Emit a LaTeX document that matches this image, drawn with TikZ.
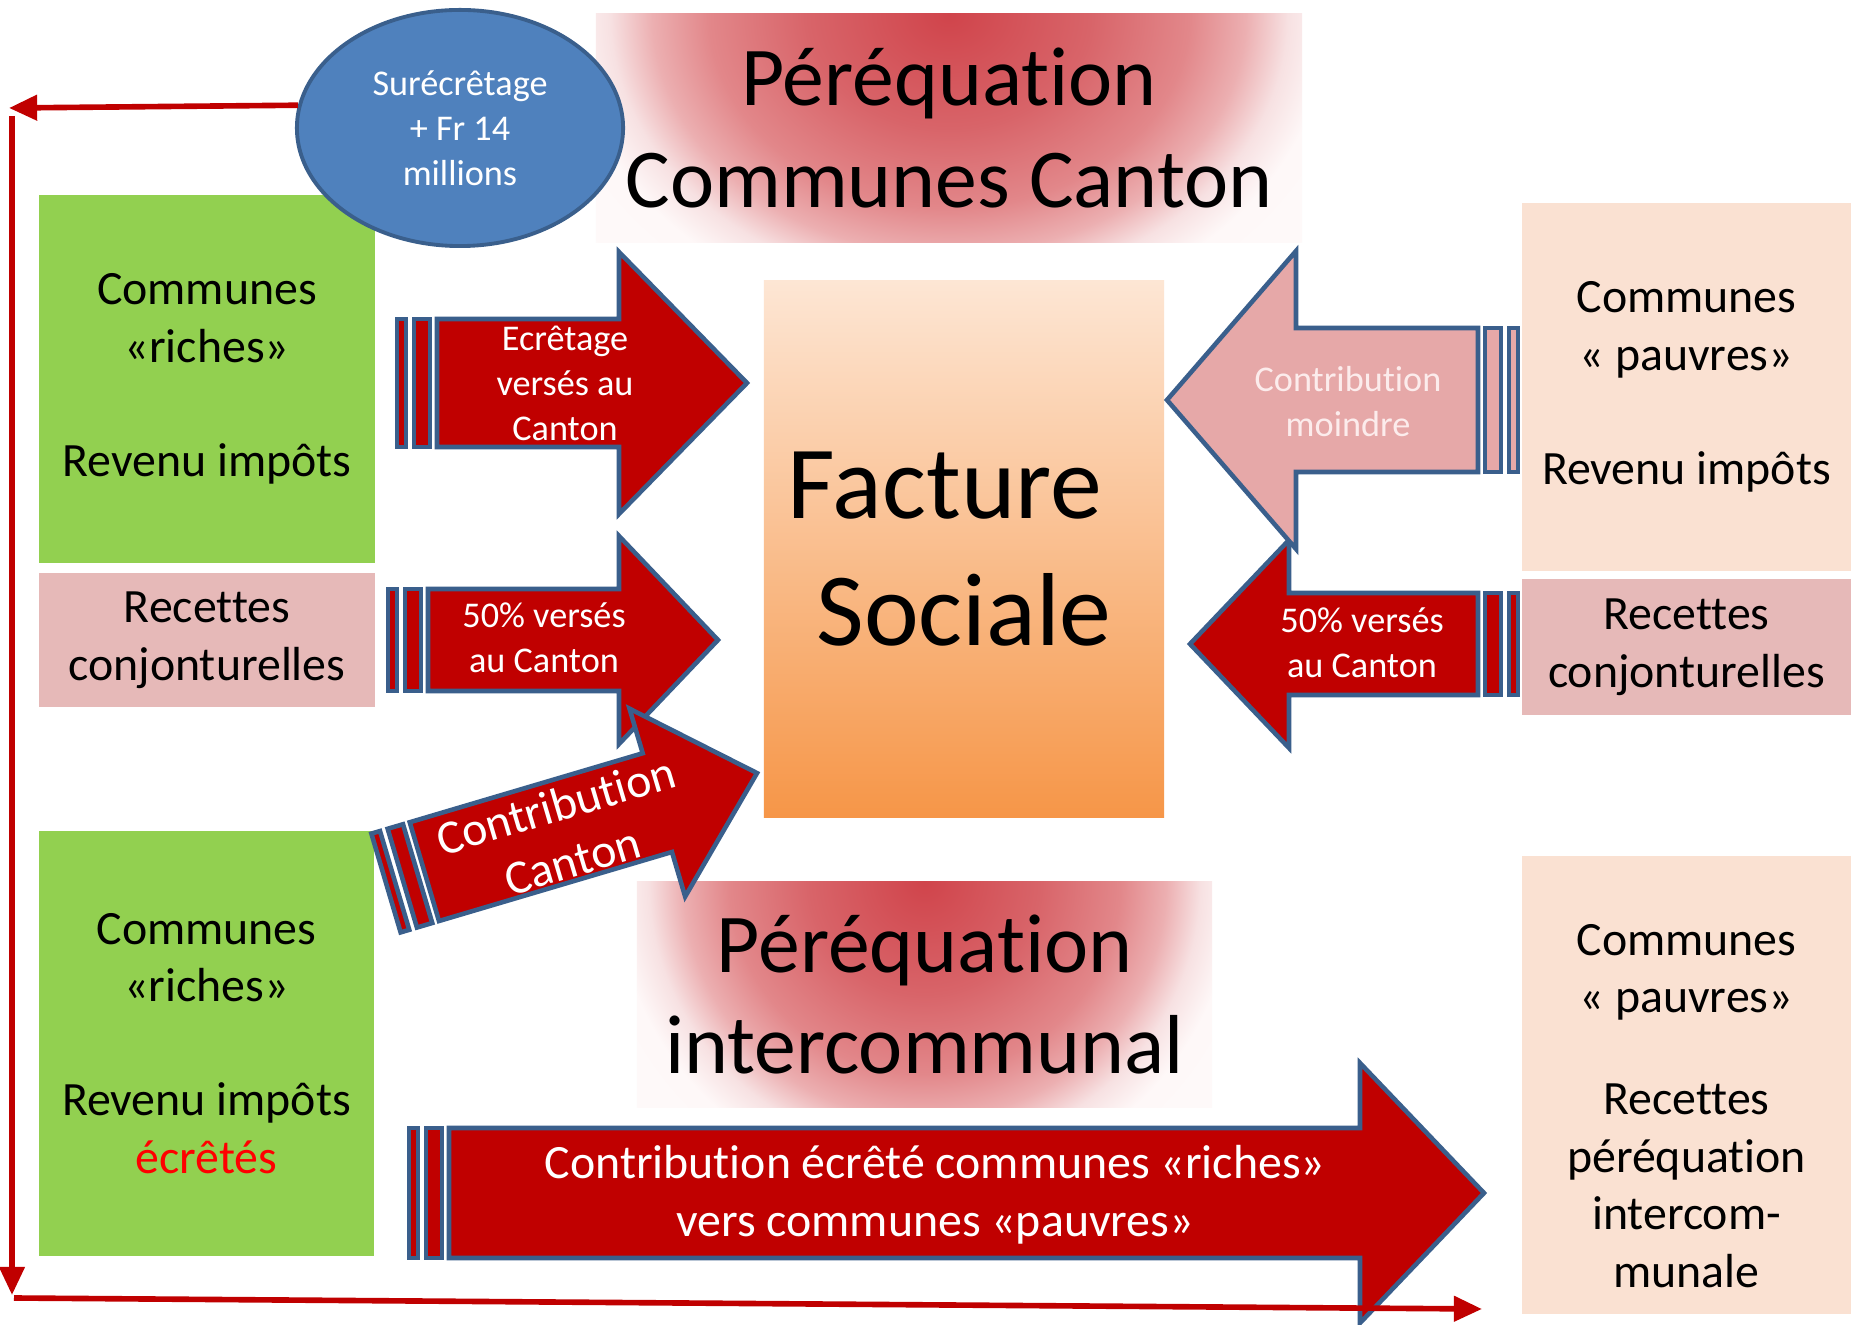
\documentclass[tikz,border=0pt]{standalone}
\usepackage{fontspec}
\setmainfont{Carlito}[Ligatures={NoCommon,NoContextual,NoRare}]
\usetikzlibrary{shapes.geometric,arrows.meta}
\definecolor{green1}{HTML}{92D050}
\definecolor{rose1}{HTML}{E6B9B8}
\definecolor{rose2}{RGB}{230,168,168}
\definecolor{rose3}{RGB}{252,236,236}
\definecolor{peach1}{RGB}{250,225,210}
\definecolor{red1}{HTML}{C00000}
\definecolor{red2}{HTML}{FF0000}
\definecolor{blue1}{HTML}{3A5F8C}
\definecolor{blue2}{HTML}{4F81BD}
\definecolor{orange1}{RGB}{253,230,212}
\definecolor{orange2}{RGB}{246,150,72}
\definecolor{glow1}{RGB}{208,68,75}
\definecolor{glow2}{RGB}{216,100,105}
\definecolor{glow3}{RGB}{226,135,138}
\definecolor{glow4}{RGB}{236,175,177}
\definecolor{glow5}{RGB}{247,225,226}
\definecolor{glow6}{RGB}{254,248,248}
\pgfdeclareradialshading{glow}{\pgfpoint{0bp}{0bp}}{color(0bp)=(glow1); color(10bp)=(glow2); color(17bp)=(glow3); color(21bp)=(glow4); color(24bp)=(glow5); color(27bp)=(glow6); color(50bp)=(white)}
\newcommand{\cboxfont}{\fontsize{13.6pt}{16.4pt}\selectfont}
\newcommand{\carrfont}{\fontsize{10.3pt}{12.8pt}\selectfont}
\newcommand{\ctitlefont}{\fontsize{23.8pt}{28.8pt}\selectfont}
\newcommand{\cfactfont}{\fontsize{29.5pt}{36pt}\selectfont}
\tikzset{combox/.style={rectangle,inner sep=0pt,align=center,font=\cboxfont},
  ptitle/.style={rectangle,inner sep=0pt,align=center,font=\ctitlefont,
    path picture={\shade[shading=glow] ([yshift=2.84cm]path picture bounding box.north west) rectangle ([yshift=-0.57cm]path picture bounding box.south east);}},
  arrline/.style={draw=blue1,line width=1.3pt,line join=miter},
  arrtxt/.style={inner sep=0pt,align=center,font=\carrfont,text=white},
  redline/.style={draw=red1,line width=1.6pt,-{Triangle[length=8pt,width=7pt]}}}
\newcommand{\stripearrow}[7]{%
  \begin{scope}[shift={#1},rotate=#2]
    \draw[arrline,fill=#7] (0,-#5) rectangle (9,#5);
    \draw[arrline,fill=#7] (17,-#5) rectangle (33,#5);
    \draw[arrline,fill=#7] (40,-#5) -- (#4,-#5) -- (#4,-#6) -- (#3,0) -- (#4,#6) -- (#4,#5) -- (40,#5) -- cycle;
  \end{scope}}
\begin{document}
\begin{tikzpicture}[x=0.01cm,y=-0.01cm]
\path[use as bounding box,fill=white] (0,0) rectangle (1851,1325);
\node[ptitle,minimum width=7.06cm,minimum height=2.28cm] (pcc) at (949,128) {Péréquation\\Communes Canton};
\node[ptitle,minimum width=5.75cm,minimum height=2.25cm] (pic) at (924.5,994.5) {Péréquation\\intercommunal};
\node[rectangle,inner sep=0pt,align=center,font=\cfactfont,top color=orange1,bottom color=orange2,
  minimum width=4cm,minimum height=5.36cm] (fac) at (964,549) {Facture\hspace*{0.38cm}\\Sociale};
\node[combox,fill=green1,minimum width=3.36cm,minimum height=3.68cm] (gtop) at (207,379) {Communes\\«riches»\\[16pt]Revenu impôts};
\node[combox,fill=rose1,minimum width=3.36cm,minimum height=1.34cm] (recl) at (207,640) {Recettes\\conjonturelles};
\node[combox,fill=green1,minimum width=3.35cm,minimum height=4.25cm] (gbot) at (206.5,1043.5) {Communes\\«riches»\\[16pt]Revenu impôts\\\textcolor{red2}{écrêtés}};
\node[combox,fill=peach1,minimum width=3.29cm,minimum height=3.68cm] (ptop) at (1686.5,387) {Communes\\« pauvres»\\[16pt]Revenu impôts};
\node[combox,fill=rose1,minimum width=3.29cm,minimum height=1.36cm] (recr) at (1686.5,647) {Recettes\\conjonturelles};
\node[combox,fill=peach1,minimum width=3.29cm,minimum height=4.58cm] (pbot) at (1686.5,1085) {};
\node[combox] (pbottxt) at (1686.5,1106) {Communes\\« pauvres»\\[12.5pt]Recettes\\péréquation\\intercom-\\munale};
\stripearrow{(388,640)}{0}{330}{231}{51}{104}{red1}
\stripearrow{(397,383)}{0}{350}{222}{64}{131}{red1}
\stripearrow{(1518,644)}{180}{328}{229}{51}{104}{red1}
\stripearrow{(1518,400)}{180}{351}{222}{72}{149}{rose2}
\stripearrow{(386,883)}{16.5}{387}{283}{51.5}{98}{red1}
\stripearrow{(409,1193)}{0}{1075}{951}{65}{130}{red1}
\node[arrtxt] (ta) at (565,383) {Ecrêtage\\versés au\\Canton};
\node[arrtxt] (tb) at (544,638) {50\% versés\\au Canton};
\node[arrtxt] (te) at (1362,643) {50\% versés\\au Canton};
\node[arrtxt,text=rose3] (td) at (1348,402) {Contribution\\moindre};
\node[arrtxt,font=\cboxfont,rotate=16.5] (tc) at (564,833) {Contribution\\Canton};
\node[arrtxt,font=\cboxfont] (tf) at (935,1195) {Contribution écrêté communes «riches»\\vers communes «pauvres»};
\node[ellipse,draw=blue1,line width=1.1pt,fill=blue2,inner sep=0pt,align=center,font=\carrfont,text=white,
  minimum width=3.26cm,minimum height=2.36cm] (sur) at (460,128) {Surécrêtage\\+ Fr 14\\millions};
\coordinate (c1) at (9,108);
\coordinate (c2) at (12,116);
\coordinate (c3) at (12,1295);
\coordinate (c4) at (14,1298);
\coordinate (c5) at (1482,1309);
\draw[redline] (sur.172) -- (c1);
\draw[redline] (c2) -- (c3);
\draw[redline] (c4) -- (c5);
\end{tikzpicture}
\end{document}
